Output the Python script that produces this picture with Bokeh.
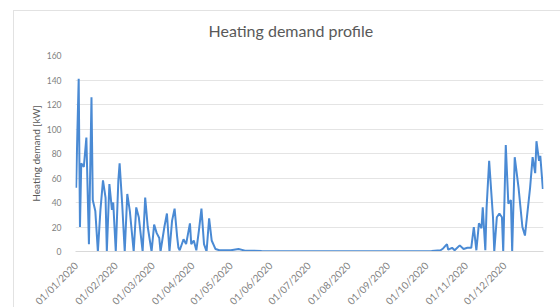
import pandas as pd
from bokeh.plotting import figure
from bokeh.models import FixedTicker, DatetimeTickFormatter, Range1d, ColumnDataSource
from bokeh.embed import file_html
from bokeh.resources import INLINE
from math import pi

title_text = "Heating demand profile"
y_label = "Heating demand [kW]"

dates = [
    "2020-01-01", "2020-01-02", "2020-01-03", "2020-01-04", "2020-01-05", "2020-01-07",
    "2020-01-09", "2020-01-11", "2020-01-13", "2020-01-14", "2020-01-16", "2020-01-18",
    "2020-01-20", "2020-01-22", "2020-01-24", "2020-01-25", "2020-01-27", "2020-01-29",
    "2020-01-30", "2020-02-01", "2020-02-03", "2020-02-04", "2020-02-06", "2020-02-08",
    "2020-02-10", "2020-02-12", "2020-02-15", "2020-02-17", "2020-02-19", "2020-02-22",
    "2020-02-24", "2020-02-26", "2020-02-29", "2020-03-02", "2020-03-04", "2020-03-06",
    "2020-03-07", "2020-03-10", "2020-03-12", "2020-03-14", "2020-03-16", "2020-03-18",
    "2020-03-20", "2020-03-21", "2020-03-22", "2020-03-25", "2020-03-27", "2020-03-30",
    "2020-03-31", "2020-04-02", "2020-04-04", "2020-04-06", "2020-04-08", "2020-04-10",
    "2020-04-12", "2020-04-14", "2020-04-16", "2020-04-19", "2020-04-22", "2020-05-01",
    "2020-05-07", "2020-05-12", "2020-05-25", "2020-06-15", "2020-07-15", "2020-08-15",
    "2020-09-15", "2020-10-05", "2020-10-12", "2020-10-14", "2020-10-17", "2020-10-18",
    "2020-10-21", "2020-10-23", "2020-10-27", "2020-10-30", "2020-11-02", "2020-11-05",
    "2020-11-07", "2020-11-09", "2020-11-11", "2020-11-13", "2020-11-14", "2020-11-16",
    "2020-11-17", "2020-11-19", "2020-11-22", "2020-11-23", "2020-11-25", "2020-11-27",
    "2020-11-29", "2020-11-30", "2020-12-02", "2020-12-04", "2020-12-06", "2020-12-07",
    "2020-12-09", "2020-12-12", "2020-12-15", "2020-12-17", "2020-12-21", "2020-12-23",
    "2020-12-25", "2020-12-26", "2020-12-28", "2020-12-29", "2020-12-31",
]
demand_kw = [
    52, 99, 141, 20, 72, 69,
    93, 6, 126, 42, 33, 0,
    34, 58, 44, 0, 55, 34,
    40, 0, 58, 72, 39, 0,
    47, 33, 0, 36, 28, 0,
    44, 20, 0, 22, 15, 11,
    0, 20, 31, 0, 25, 35,
    12, 3, 1, 10, 6, 23,
    6, 9, 1, 17, 35, 6,
    0, 27, 9, 2, 1, 1,
    2, 0.7, 0.5, 0.3, 0.2, 0.2,
    0.3, 0.5, 1, 2.5, 6, 1.5,
    3, 1, 5, 2, 3, 3,
    20, 1, 23, 19, 36, 1,
    36, 74, 28, 0, 28, 31,
    28, 0, 87, 39, 42, 0,
    77, 52, 20, 13, 52, 77,
    64, 90, 74, 78, 51,
]

tick_dates = [
    "2020-01-01", "2020-02-01", "2020-03-01", "2020-04-01", "2020-05-01", "2020-06-01",
    "2020-07-01", "2020-08-01", "2020-09-01", "2020-10-01", "2020-11-01", "2020-12-01",
]
y_ticks = [0, 20, 40, 60, 80, 100, 120, 140, 160]

src = ColumnDataSource(dict(x=pd.to_datetime(dates), y=demand_kw))

x_start = pd.Timestamp("2019-12-31 12:00")
x_end = pd.Timestamp("2020-12-31 12:00")

p = figure(width=560, height=314, output_backend="svg", toolbar_location=None,
           x_axis_type="datetime",
           x_range=Range1d(x_start, x_end), y_range=Range1d(0, 160),
           min_border_left=75, min_border_right=17, min_border_top=55, min_border_bottom=60)
p.styles = {
    "position": "fixed", "top": "0px", "left": "0px",
    "background-color": "#ffffff",
    "background-image": "linear-gradient(#e2e2e2, #e2e2e2), linear-gradient(#e2e2e2, #e2e2e2)",
    "background-size": "1px 100%, 100% 1px",
    "background-position": "13px 10px, 13px 10px",
    "background-repeat": "no-repeat",
}
p.border_fill_color = None
p.background_fill_color = "#ffffff"
p.outline_line_color = None

p.title.text = title_text
p.title.align = "left"
p.title.offset = 133
p.title.text_font = "Lato"
p.title.text_font_size = "16px"
p.title.text_font_style = "normal"
p.title.text_color = "#595959"
p.title.standoff = 32

p.line("x", "y", source=src, line_color="#4a8ad4", line_width=2)

tick_ms = [pd.Timestamp(d).value / 1e6 for d in tick_dates]
p.xaxis.ticker = FixedTicker(ticks=tick_ms)
fmt = "%d/%m/%Y"
p.xaxis.formatter = DatetimeTickFormatter(milliseconds=fmt, seconds=fmt, minsec=fmt, minutes=fmt,
                                          hourmin=fmt, hours=fmt, days=fmt, months=fmt, years=fmt)
p.xaxis.major_label_orientation = pi / 4
p.xaxis.major_label_text_font = "Lato"
p.xaxis.major_label_text_font_size = "10px"
p.xaxis.major_label_text_color = "#7f7f7f"
p.xaxis.major_tick_line_color = None
p.xaxis.major_tick_out = 0
p.xaxis.major_tick_in = 0
p.xaxis.minor_tick_line_color = None
p.xaxis.axis_line_color = "#d9d9d9"
p.xaxis.major_label_standoff = 12

p.yaxis.ticker = FixedTicker(ticks=y_ticks)
p.yaxis.major_label_text_font = "Lato"
p.yaxis.major_label_text_font_size = "8.5px"
p.yaxis.major_label_text_color = "#7f7f7f"
p.yaxis.major_tick_line_color = None
p.yaxis.major_tick_out = 0
p.yaxis.major_tick_in = 0
p.yaxis.minor_tick_line_color = None
p.yaxis.axis_line_color = None
p.yaxis.major_label_standoff = 14
p.yaxis.axis_label = y_label
p.yaxis.axis_label_text_font = "Lato"
p.yaxis.axis_label_text_font_size = "10px"
p.yaxis.axis_label_text_font_style = "normal"
p.yaxis.axis_label_text_color = "#595959"
p.yaxis.axis_label_standoff = 2

p.xgrid.grid_line_color = None
p.ygrid.grid_line_color = "#e4e4e4"
p.ygrid.ticker = FixedTicker(ticks=y_ticks)

open("out.html", "w").write(file_html(p, INLINE))
